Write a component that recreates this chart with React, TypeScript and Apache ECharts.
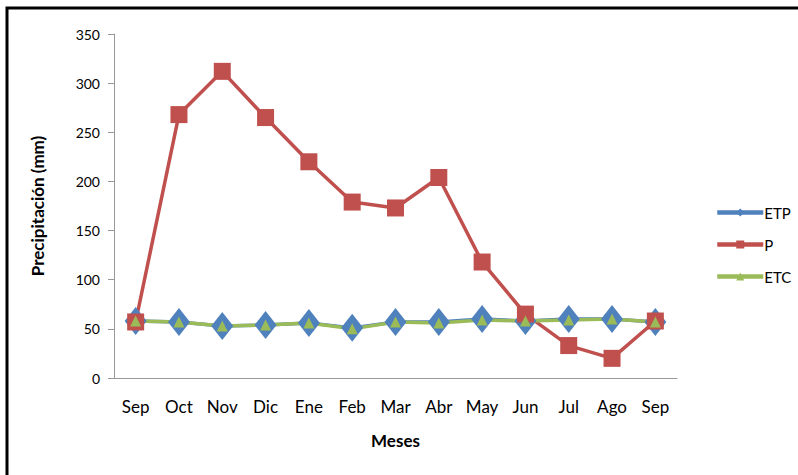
import React, { useEffect, useRef } from "react";
import * as echarts from "echarts";

const months = ["Sep", "Oct", "Nov", "Dic", "Ene", "Feb", "Mar", "Abr", "May", "Jun", "Jul", "Ago", "Sep"];
const etp = [58, 57, 53, 54, 56, 51, 57, 57, 60, 58, 60, 60, 57];
const p = [57, 268, 312, 265, 220, 179, 173, 204, 118, 65, 33, 20, 58];
const etc = [58, 57, 53, 54, 56, 50, 57, 56, 59, 58, 59, 60, 57];

const FONT = "Lato, 'Open Sans', sans-serif";

export default function App() {
  const ref = useRef<HTMLDivElement>(null);
  useEffect(() => {
    if (!ref.current) return;
    const chart = echarts.init(ref.current, undefined, { renderer: "svg" });
    chart.setOption({
      animation: false,
      backgroundColor: "#ffffff",
      textStyle: { fontFamily: FONT },
      grid: { left: 114, right: 121, top: 34, bottom: 97, containLabel: false },
      graphic: [
        {
          type: "rect",
          shape: { x: 7, y: 8, width: 820, height: 500 },
          style: { fill: "none", stroke: "#000", lineWidth: 3 },
          silent: true,
        },
      ],
      legend: {
        orient: "vertical",
        left: 710,
        top: 200,
        itemWidth: 46,
        itemHeight: 10,
        itemGap: 17,
        lineStyle: { width: 4.5 },
        textStyle: { fontFamily: FONT, fontSize: 15, color: "#000", padding: [0, 0, 0, -4] },
        data: ["ETP", "P", "ETC"],
      },
      xAxis: {
        type: "category",
        data: months,
        boundaryGap: true,
        axisLine: { lineStyle: { color: "#999", width: 1 } },
        axisTick: { show: false },
        axisLabel: { color: "#000", fontSize: 17, fontFamily: FONT, margin: 20, interval: 0 },
        name: "Meses",
        nameLocation: "middle",
        nameGap: 54,
        nameTextStyle: { color: "#000", fontSize: 17, fontWeight: "bold", fontFamily: FONT },
      },
      yAxis: {
        type: "value",
        min: 0,
        max: 350,
        interval: 50,
        axisLine: { show: true, lineStyle: { color: "#999", width: 1 } },
        axisTick: { show: true, length: 6, lineStyle: { color: "#999" } },
        splitLine: { show: false },
        axisLabel: { color: "#000", fontSize: 14, fontFamily: FONT, margin: 14 },
        name: "Precipitación (mm)",
        nameLocation: "middle",
        nameGap: 68,
        nameRotate: 90,
        nameTextStyle: { color: "#000", fontSize: 17, fontWeight: "bold", fontFamily: FONT },
      },
      series: [
        {
          name: "ETP",
          type: "line",
          data: etp,
          symbol: "diamond",
          symbolSize: [22, 28],
          itemStyle: { color: "#4F81BD" },
          lineStyle: { color: "#4F81BD", width: 3.5 },
        },
        {
          name: "P",
          type: "line",
          data: p,
          symbol: "rect",
          symbolSize: 17,
          itemStyle: { color: "#C0504D" },
          lineStyle: { color: "#C0504D", width: 3.5 },
        },
        {
          name: "ETC",
          type: "line",
          data: etc,
          symbol: "triangle",
          symbolSize: 11,
          itemStyle: { color: "#9BBB59" },
          lineStyle: { color: "#9BBB59", width: 3.5 },
        },
      ],
    });
    return () => chart.dispose();
  }, []);
  return <div ref={ref} style={{ position: "fixed", left: 0, top: 0, width: 798, height: 475 }} />;
}
